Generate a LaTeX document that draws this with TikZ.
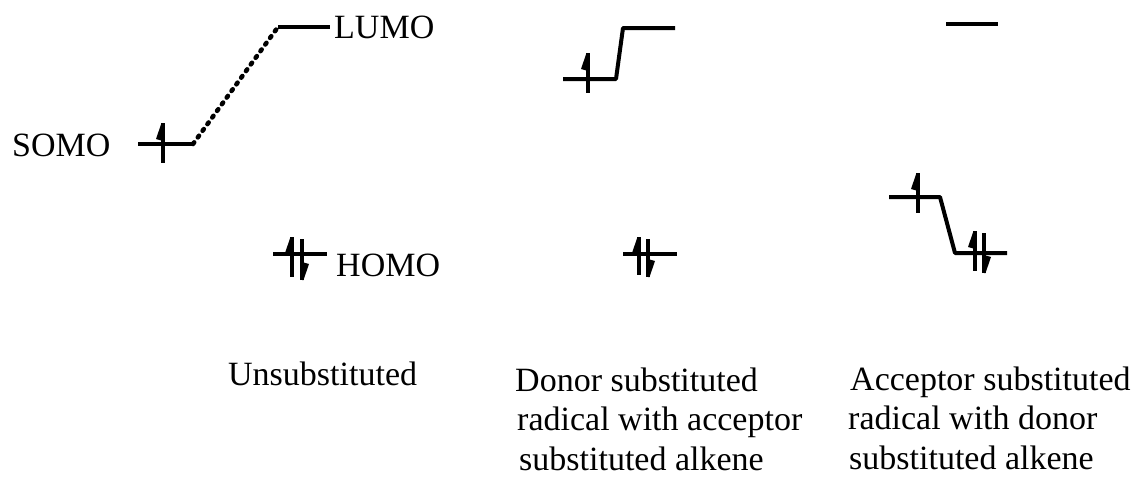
\documentclass[tikz,border=0pt]{standalone}
\usepackage{fontspec}
\setmainfont{Liberation Serif}
\tikzset{
  level/.style={line width=4pt},
  link/.style={line width=4pt, line join=round},
  wavy/.style={line width=4.6pt, line cap=round, dash pattern=on 2pt off 6.2pt},
  spin/.style={line width=3.6pt},
  lbl/.style={inner sep=0pt, anchor=base west, font=\fontsize{34}{40}\selectfont},
}
\newcommand\spinup[3]{\draw[spin] (#1,#2) -- (#1,#3); \fill (#1-1.5,#2) -- ++(-5.5,16) -- ++(7,2) -- ++(0,-18) -- cycle;}
\newcommand\spindown[3]{\draw[spin] (#1,#2) -- (#1,#3); \fill (#1+1.5,#3) -- ++(5.5,-16) -- ++(-7,-2) -- ++(0,18) -- cycle;}
\begin{document}
\begin{tikzpicture}[x=1pt,y=-1pt]
\useasboundingbox (0,0) rectangle (1141,479);
% Unsubstituted
\coordinate (aS1) at (138,144); \coordinate (aS2) at (193,144);
\coordinate (aL1) at (278,27);  \coordinate (aL2) at (330,27);
\coordinate (aH1) at (273,254); \coordinate (aH2) at (327,254);
\draw[level] (aS1) -- (aS2);
\draw[wavy] (aS2) -- (aL1);
\draw[level] (aL1) -- (aL2);
\draw[level] (aH1) -- (aH2);
\spinup{163}{123}{163}
\spinup{292}{237}{277}
\spindown{302}{239}{280}
\node[lbl] (somo) at (12,156) {SOMO};
\node[lbl] (lumo) at (334,38) {LUMO};
\node[lbl] (homo) at (336,276) {HOMO};
\node[lbl] (t1) at (228,385) {Unsubstituted};
% Donor substituted
\coordinate (bS1) at (563,79); \coordinate (bS2) at (616,79);
\coordinate (bL1) at (623,28); \coordinate (bL2) at (675,28);
\coordinate (bH1) at (623,254); \coordinate (bH2) at (677,254);
\draw[link] (bS1) -- (bS2) -- (bL1) -- (bL2);
\draw[level] (bH1) -- (bH2);
\spinup{588}{53}{93}
\spinup{639}{237}{275}
\spindown{648}{239}{277}
\node[lbl] (t2a) at (515,391) {Donor substituted};
\node[lbl] (t2b) at (517,430) {radical with acceptor};
\node[lbl] (t2c) at (519,470) {substituted alkene};
% Acceptor substituted
\coordinate (cL1) at (946,24); \coordinate (cL2) at (998,24);
\coordinate (cS1) at (889,197); \coordinate (cS2) at (940,197);
\coordinate (cH1) at (955,253); \coordinate (cH2) at (1007,253);
\draw[level] (cL1) -- (cL2);
\draw[link] (cS1) -- (cS2) -- (cH1) -- (cH2);
\spinup{918}{173}{213}
\spinup{975}{231}{271}
\spindown{984}{233}{273}
\node[lbl] (t3a) at (850,390) {Acceptor substituted};
\node[lbl] (t3b) at (848,429) {radical with donor};
\node[lbl] (t3c) at (849,469) {substituted alkene};
\end{tikzpicture}
\end{document}
